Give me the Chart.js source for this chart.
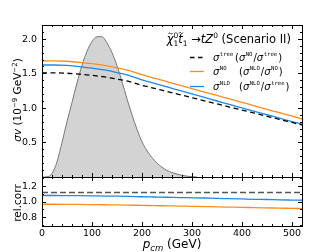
<!DOCTYPE html>
<html>
<head>
<meta charset="utf-8">
<script src="https://cdn.jsdelivr.net/npm/chart.js@4.4.1/dist/chart.umd.min.js"></script>
<style>
  html, body { margin: 0; padding: 0; background: #fff; }
  #wrap { position: relative; width: 336px; height: 252px; }
  canvas { position: absolute; left: 0; top: 0; }
</style>
</head>
<body>
<div id="wrap">
  <canvas id="topChart" width="336" height="252"></canvas>
  <canvas id="botChart" width="336" height="252"></canvas>
</div>
<script>
// p_cm grid (GeV)
const pcm = [0, 25, 50, 75, 100, 125, 150, 175, 200, 225, 250, 275, 300, 325, 350, 375, 400, 425, 450, 475, 500, 525];

// sigma*v in 10^-9 GeV^-2
const sigmaNO   = [1.68, 1.68, 1.675, 1.66, 1.64, 1.615, 1.58, 1.54, 1.48, 1.43, 1.38, 1.33, 1.28, 1.23, 1.18, 1.13, 1.08, 1.03, 0.98, 0.93, 0.88, 0.83];
const sigmaNLO  = [1.621, 1.621, 1.615, 1.599, 1.576, 1.549, 1.512, 1.469, 1.407, 1.356, 1.304, 1.253, 1.202, 1.151, 1.100, 1.050, 1.000, 0.950, 0.901, 0.852, 0.803, 0.755];
const sigmaTree = [1.507, 1.507, 1.502, 1.489, 1.471, 1.448, 1.417, 1.381, 1.327, 1.283, 1.238, 1.193, 1.148, 1.103, 1.058, 1.013, 0.969, 0.924, 0.879, 0.834, 0.789, 0.744];

// relative corrections
const ratioNOtree  = [1.115, 1.115, 1.115, 1.115, 1.115, 1.115, 1.115, 1.115, 1.115, 1.115, 1.115, 1.115, 1.115, 1.115, 1.115, 1.115, 1.115, 1.115, 1.115, 1.115, 1.115, 1.115];
const ratioNLONO   = [0.965, 0.965, 0.964, 0.963, 0.961, 0.959, 0.957, 0.954, 0.951, 0.948, 0.945, 0.942, 0.939, 0.936, 0.932, 0.929, 0.926, 0.922, 0.919, 0.916, 0.913, 0.910];
const ratioNLOtree = [1.076, 1.076, 1.075, 1.074, 1.072, 1.069, 1.067, 1.064, 1.060, 1.057, 1.054, 1.050, 1.047, 1.044, 1.039, 1.036, 1.032, 1.028, 1.025, 1.021, 1.018, 1.015];

// momentum distribution (grey shape, arbitrary units on the same axis)
const distX = [0, 10, 20, 30, 40, 50, 60, 70, 80, 90, 100, 110, 120, 130, 140, 150, 160, 170, 180, 190, 200, 210, 220, 230, 240, 250, 260, 270, 280, 290, 300, 310];
const distY = [0, 0.003, 0.05, 0.22, 0.5, 0.8, 1.08, 1.36, 1.62, 1.82, 1.96, 2.03, 2.03, 1.94, 1.80, 1.61, 1.38, 1.13, 0.90, 0.69, 0.51, 0.38, 0.28, 0.20, 0.14, 0.095, 0.065, 0.042, 0.025, 0.012, 0.004, 0];

const xTicks = [0, 100, 200, 300, 400, 500];
const yTicksTop = [0.5, 1.0, 1.5, 2.0];
const yTicksBot = [0.8, 1.0, 1.2];

const ORANGE = '#ff8c1a';
const BLUE = '#1f88e5';
const FONT = '"DejaVu Sans"';

const pts = (xs, ys) => xs.map((x, i) => ({ x: x, y: ys[i] }));

// draws a run of text pieces (italic, sub/superscripts ...) and returns end x
function drawParts(ctx, x, y, parts, measureOnly) {
  for (const p of parts) {
    ctx.font = p.f;
    if (p.stack) {
      // sup + sub on the same x
      if (!measureOnly) {
        ctx.fillText(p.sup, x, y + p.dySup);
        ctx.fillText(p.sub, x, y + p.dySub);
      }
      x += Math.max(ctx.measureText(p.sup).width, ctx.measureText(p.sub).width);
      continue;
    }
    if (p.at !== undefined) x = p.at;
    if (!measureOnly) ctx.fillText(p.t, x, y + (p.dy || 0));
    if (p.tilde && !measureOnly) {
      const w = ctx.measureText(p.t).width;
      drawTilde(ctx, x + w / 2 + 0.5, y - p.tilde);
    }
    x += ctx.measureText(p.t).width + (p.gap || 0);
  }
  return x;
}

function drawTilde(ctx, cx, cy) {
  ctx.save();
  ctx.beginPath();
  ctx.lineWidth = 0.8;
  ctx.strokeStyle = '#000';
  ctx.moveTo(cx - 2, cy + 0.5);
  ctx.bezierCurveTo(cx - 1.2, cy - 1.2, cx - 0.4, cy - 0.5, cx, cy);
  ctx.bezierCurveTo(cx + 0.4, cy + 0.5, cx + 1.2, cy + 1.2, cx + 2, cy - 0.5);
  ctx.stroke();
  ctx.restore();
}

// frame + inward ticks on all four sides, tick labels
function framePlugin(cfg) {
  return {
    id: 'frame_' + cfg.name,
    afterDraw(chart) {
      const { left, right, top, bottom } = chart.chartArea;
      const xs = chart.scales.x, ys = chart.scales.y;
      const ctx = chart.ctx;
      ctx.save();
      ctx.strokeStyle = '#000';
      ctx.lineWidth = 1;
      ctx.strokeRect(Math.round(left) + 0.5, Math.round(top) + 0.5, Math.round(right - left), Math.round(bottom - top));

      ctx.beginPath();
      for (let v = 0; v <= xs.max + 1e-9; v += 20) {
        const px = Math.round(xs.getPixelForValue(v)) + 0.5;
        const len = v % 100 === 0 ? 4 : 2;
        ctx.moveTo(px, bottom); ctx.lineTo(px, bottom - len);
        ctx.moveTo(px, top); ctx.lineTo(px, top + len);
      }
      for (let k = Math.ceil(ys.min / cfg.yMinor - 1e-6); k * cfg.yMinor <= ys.max + 1e-9; k++) {
        const v = k * cfg.yMinor;
        const py = Math.round(ys.getPixelForValue(v)) + 0.5;
        const isMajor = Math.abs(v / cfg.yMajor - Math.round(v / cfg.yMajor)) < 1e-6;
        const len = isMajor ? 4 : 2;
        ctx.moveTo(left, py); ctx.lineTo(left + len, py);
        ctx.moveTo(right, py); ctx.lineTo(right - len, py);
      }
      ctx.stroke();

      ctx.fillStyle = '#000';
      ctx.font = '9.5px ' + FONT;
      ctx.textAlign = 'right';
      ctx.textBaseline = 'middle';
      cfg.yLabels.forEach(v => {
        ctx.fillText(v.toFixed(1), left - 5, ys.getPixelForValue(v) + 0.5);
      });
      if (cfg.xLabels) {
        ctx.textAlign = 'center';
        ctx.textBaseline = 'top';
        cfg.xLabels.forEach(v => {
          ctx.fillText(String(v), xs.getPixelForValue(v), bottom + 3);
        });
      }
      ctx.restore();
    }
  };
}

const topDecor = {
  id: 'topDecor',
  afterDraw(chart) {
    const ctx = chart.ctx;
    ctx.save();
    ctx.fillStyle = '#000';
    ctx.textAlign = 'left';
    ctx.textBaseline = 'alphabetic';

    // y title
    const yParts = [
      { t: 'σv', f: 'italic 10.5px ' + FONT },
      { t: ' (10', f: '10.5px ' + FONT },
      { t: '−9', f: '7px ' + FONT, dy: -4.5 },
      { t: ' GeV', f: '10.5px ' + FONT },
      { t: '−2', f: '7px ' + FONT, dy: -4.5 },
      { t: ')', f: '10.5px ' + FONT }
    ];
    const w = drawParts(ctx, 0, 0, yParts, true);
    ctx.save();
    ctx.translate(21, 100 + w / 2);
    ctx.rotate(-Math.PI / 2);
    drawParts(ctx, 0, 0, yParts);
    ctx.restore();

    // legend title
    const titleParts = [
      { t: 'χ', f: 'italic 11.5px ' + FONT, tilde: 9.5 },
      { stack: true, f: '7.5px ' + FONT, sup: '0', sub: '1', dySup: -5.5, dySub: 2.5 },
      { t: 't', f: 'italic 11.5px ' + FONT, tilde: 10 },
      { t: '1', f: '7.5px ' + FONT, dy: 2.5 },
      { t: ' →', f: '11.5px ' + FONT },
      { t: 'tZ', f: 'italic 11.5px ' + FONT },
      { t: '0', f: '7.5px ' + FONT, dy: -5.5 },
      { t: ' (Scenario II)', f: '11.5px ' + FONT }
    ];
    const tw = drawParts(ctx, 0, 0, titleParts, true);
    drawParts(ctx, 291 - tw, 43, titleParts);

    // legend entries
    const sig = 'italic 10px ' + FONT, nrm = '10px ' + FONT, sup = '5.6px "DejaVu Sans Mono"';
    const rows = [
      { y: 57.5, color: '#000', dash: [4.5, 3.5], a: 'tree', p: 235, n: 'NO', d: 'tree' },
      { y: 71.5, color: ORANGE, dash: [], a: 'NO', p: 239, n: 'NLO', d: 'NO' },
      { y: 86.5, color: BLUE, dash: [], a: 'NLO', p: 239, n: 'NLO', d: 'tree' }
    ];
    rows.forEach(r => {
      ctx.save();
      ctx.strokeStyle = r.color;
      ctx.lineWidth = 1.3;
      ctx.setLineDash(r.dash);
      ctx.beginPath();
      ctx.moveTo(190, r.y); ctx.lineTo(204, r.y);
      ctx.stroke();
      ctx.restore();
      const by = r.y + 3;
      drawParts(ctx, 213, by, [
        { t: 'σ', f: sig, gap: 0.5 },
        { t: r.a, f: sup, dy: -4.5 },
        { t: '(', f: nrm, at: r.p },
        { t: 'σ', f: sig, gap: 0.5 },
        { t: r.n, f: sup, dy: -4.5, gap: 1 },
        { t: '/', f: nrm },
        { t: 'σ', f: sig, gap: 0.5 },
        { t: r.d, f: sup, dy: -4.5, gap: 1 },
        { t: ')', f: nrm }
      ]);
    });
    ctx.restore();
  }
};

const botDecor = {
  id: 'botDecor',
  afterDraw(chart) {
    const ctx = chart.ctx;
    const { left, right, top, bottom } = chart.chartArea;
    ctx.save();
    ctx.fillStyle = '#000';
    ctx.textBaseline = 'alphabetic';
    ctx.textAlign = 'left';

    // rel.corr title
    ctx.font = '10.5px ' + FONT;
    const w = ctx.measureText('rel.corr').width;
    ctx.save();
    ctx.translate(21, (top + bottom) / 2 + 1.5 + w / 2);
    ctx.rotate(-Math.PI / 2);
    ctx.fillText('rel.corr', 0, 0);
    ctx.restore();

    // x title
    const xParts = [
      { t: 'p', f: 'italic 12px ' + FONT },
      { t: 'cm', f: 'italic 8.5px ' + FONT, dy: 2.5 },
      { t: ' (GeV)', f: '12px ' + FONT }
    ];
    const xw = drawParts(ctx, 0, 0, xParts, true);
    drawParts(ctx, (left + right) / 2 - xw / 2, 248, xParts);
    ctx.restore();
  }
};

const common = {
  responsive: false,
  animation: false,
  devicePixelRatio: 1,
  events: [],
  elements: { point: { radius: 0 }, line: { cubicInterpolationMode: 'monotone' } },
  plugins: { legend: { display: false }, tooltip: { enabled: false } }
};

new Chart(document.getElementById('topChart').getContext('2d'), {
  type: 'line',
  data: {
    datasets: [
      { data: pts(pcm, sigmaTree), borderColor: '#000', borderWidth: 1.3, borderDash: [5, 3.5], fill: false, order: 0 },
      { data: pts(pcm, sigmaNO), borderColor: ORANGE, borderWidth: 1.3, fill: false, order: 0 },
      { data: pts(pcm, sigmaNLO), borderColor: BLUE, borderWidth: 1.3, fill: false, order: 0 },
      { data: pts(distX, distY), borderColor: '#777', borderWidth: 1, backgroundColor: '#d3d3d3', fill: 'origin', order: 5 }
    ]
  },
  options: Object.assign({}, common, {
    layout: { padding: { left: 42, right: 34, top: 25, bottom: 75 } },
    scales: {
      x: { type: 'linear', min: 0, max: 520, display: false },
      y: { type: 'linear', min: 0, max: 2.2, display: false }
    }
  }),
  plugins: [framePlugin({ name: 'top', yMinor: 0.1, yMajor: 0.5, yLabels: yTicksTop }), topDecor]
});

new Chart(document.getElementById('botChart').getContext('2d'), {
  type: 'line',
  data: {
    datasets: [
      { data: pts(pcm, ratioNOtree), borderColor: '#555', borderWidth: 1.5, borderDash: [6, 3], fill: false },
      { data: pts(pcm, ratioNLOtree), borderColor: BLUE, borderWidth: 1.3, fill: false },
      { data: pts(pcm, ratioNLONO), borderColor: ORANGE, borderWidth: 1.3, fill: false }
    ]
  },
  options: Object.assign({}, common, {
    layout: { padding: { left: 42, right: 34, top: 177, bottom: 26 } },
    scales: {
      x: { type: 'linear', min: 0, max: 520, display: false },
      y: { type: 'linear', min: 0.69, max: 1.31, display: false }
    }
  }),
  plugins: [framePlugin({ name: 'bot', yMinor: 0.1, yMajor: 0.2, yLabels: yTicksBot, xLabels: xTicks }), botDecor]
});
</script>
</body>
</html>
